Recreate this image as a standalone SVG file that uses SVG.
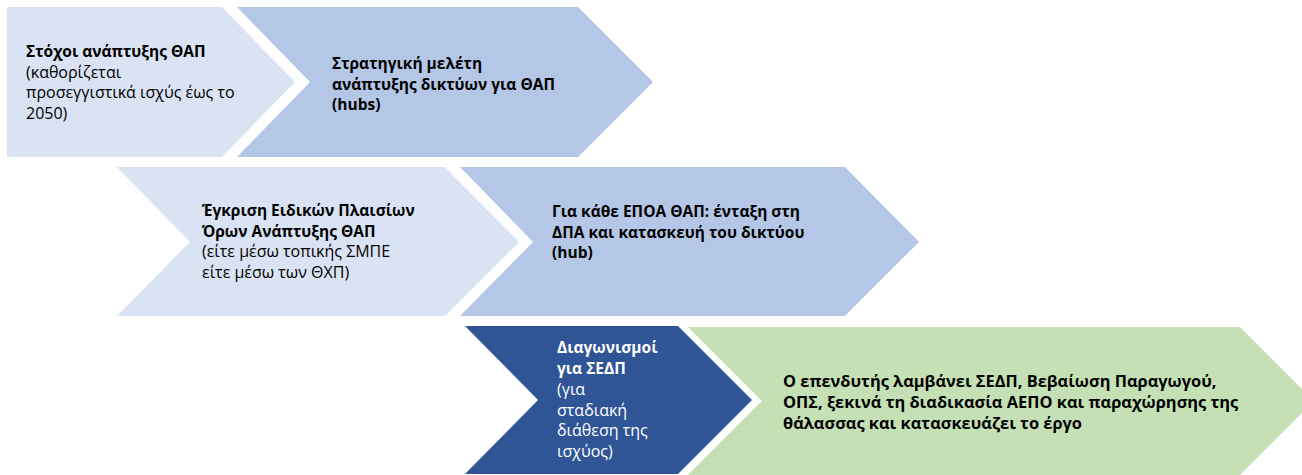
<svg xmlns="http://www.w3.org/2000/svg" width="1302" height="475" viewBox="0 0 1302 475">
<style>
.t{font-family:"Open Sans","Noto Sans","DejaVu Sans",sans-serif;font-size:15.5px;fill:#000}
.r{font-size:16px}
.b{font-weight:bold}
.gt{font-size:16.4px}
.w{fill:#fff}
.l{fill:#DAE3F3}
.m{fill:#B4C7E7}
.d{fill:#2F5597}
.g{fill:#C5E0B4}
</style>
<rect width="1302" height="475" fill="#fff"/>
<g id="connectors"></g>
<g id="n1">
<polygon class="l" points="7,7 222,7 295,82 222,157 7,157"/>
<text class="t"><tspan class="b" x="26" y="57">Στόχοι ανάπτυξης ΘΑΠ</tspan><tspan class="r" x="26" y="78">(καθορίζεται</tspan><tspan class="r" x="26" y="98">προσεγγιστικά ισχύς έως το</tspan><tspan class="r" x="26" y="119">2050)</tspan></text>
</g>
<g id="n2">
<polygon class="m" points="237,7 578,7 653,82 578,157 237,157 310,82"/>
<text class="t b"><tspan x="332" y="69">Στρατηγική μελέτη</tspan><tspan x="332" y="90">ανάπτυξης δικτύων για ΘΑΠ</tspan><tspan x="332" y="110">(hubs)</tspan></text>
</g>
<g id="n3">
<polygon class="l" points="117,167 445,167 519,242 445,316 117,316 190,242"/>
<text class="t"><tspan class="b" x="202" y="216">Έγκριση Ειδικών Πλαισίων</tspan><tspan class="b" x="202" y="237">Όρων Ανάπτυξης ΘΑΠ</tspan><tspan class="r" x="202" y="257">(είτε μέσω τοπικής ΣΜΠΕ</tspan><tspan class="r" x="202" y="278">είτε μέσω των ΘΧΠ)</tspan></text>
</g>
<g id="n4">
<polygon class="m" points="460,167 845,167 919,242 845,316 460,316 533,242"/>
<text class="t b"><tspan x="552" y="217">Για κάθε ΕΠΟΑ ΘΑΠ: ένταξη στη</tspan><tspan x="552" y="238">ΔΠΑ και κατασκευή του δικτύου</tspan><tspan x="552" y="258">(hub)</tspan></text>
</g>
<g id="n5">
<polygon class="d" points="465,326 678,326 752,400 678,474 465,474 538,400"/>
<text class="t w"><tspan class="b" x="557" y="353">Διαγωνισμοί</tspan><tspan class="b" x="557" y="374">για ΣΕΔΠ</tspan><tspan class="r" x="557" y="395">(για</tspan><tspan class="r" x="557" y="416">σταδιακή</tspan><tspan class="r" x="557" y="436">διάθεση της</tspan><tspan class="r" x="557" y="457">ισχύος)</tspan></text>
</g>
<g id="n6">
<polygon class="g" points="688,327 1240,327 1314,401 1240,475 688,475 762,401"/>
<text class="t b gt"><tspan x="783" y="387">Ο επενδυτής λαμβάνει ΣΕΔΠ, Βεβαίωση Παραγωγού,</tspan><tspan x="783" y="408">ΟΠΣ, ξεκινά τη διαδικασία  ΑΕΠΟ και παραχώρησης της</tspan><tspan x="783" y="429">θάλασσας και κατασκευάζει το έργο</tspan></text>
</g>
</svg>
